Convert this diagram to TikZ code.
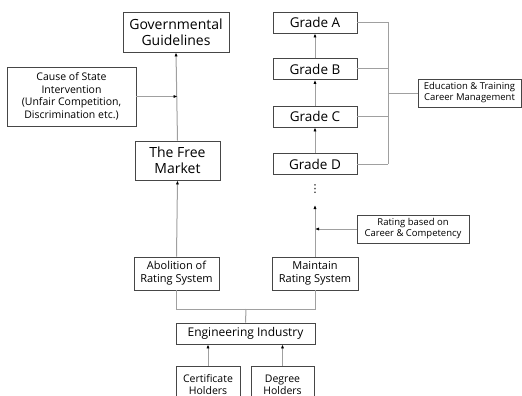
\documentclass[tikz,border=0pt]{standalone}
\usepackage{fontspec}
\setmainfont{Open Sans}
\newfontfamily\symfont{DejaVu Sans}
\usetikzlibrary{arrows.meta,positioning,calc}
\definecolor{boxline}{RGB}{70,70,70}
\definecolor{linkline}{RGB}{160,160,160}
\tikzset{
  box/.style={draw=boxline,line width=0.9pt,align=center,inner sep=0pt},
  conn/.style={draw=linkline,line width=1pt},
  arr/.style={conn,-{Latex[length=4pt,width=3.2pt,color=black]}}
}
\newcommand{\fsz}[2]{\fontsize{#1}{#2}\selectfont}

\begin{document}
\begin{tikzpicture}[x=1pt,y=-1pt]
    \useasboundingbox (0,0) rectangle (522,396);
    \clip (0,0) rectangle (522,396);

    % left column
    \node[box,minimum width=106,minimum height=40,font=\fsz{14}{16}] at (176,32) (gov) {Governmental\\Guidelines};
    \node[box,minimum width=129,minimum height=59,font=\fsz{10.5}{12.5}] at (71.5,96.5) (cause) {Cause of State\\Intervention\\(Unfair Competition,\\Discrimination etc.)};
    \node[box,minimum width=85,minimum height=39,font=\fsz{14}{16}] at (177.5,160.5) (market) {The Free\\Market};
    \node[box,minimum width=85,minimum height=33,font=\fsz{11}{13}] at (176.5,273.5) (abol) {Abolition of\\Rating System};

    % right column
    \foreach \g/\y in {A/22.5,B/69,C/116.5,D/164} {
      \node[box,minimum width=84,minimum height=21,font=\fsz{13.5}{16}] at (315,\y) (grade\g) {Grade \g};
      \draw[conn] (grade\g.east) -- (388,\y);
    }
    \foreach \g/\h in {B/A,C/B,D/C} {
      \draw[arr] (grade\g.north) -- (grade\h.south);
    }
    \node[box,minimum width=103,minimum height=28,font=\fsz{9.5}{11}] at (469.5,93) (edu) {Education \& Training\\Career Management};
    \coordinate (bus) at (388,93);
    \draw[conn] (388,22.5) -- (388,164);
    \draw[conn] (edu.west) -- (bus);
    \node[inner sep=0pt,font=\symfont\fsz{11}{13}] at (315,189) (dots) {⋮};

    \node[box,minimum width=112,minimum height=28,font=\fsz{9.5}{11}] at (413,229) (rating) {Rating based on\\Career \& Competency};
    \node[box,minimum width=86,minimum height=33,font=\fsz{11}{13}] at (315,273.5) (maint) {Maintain\\Rating System};
    \coordinate (top) at (315,205);

    % bottom
    \node[box,minimum width=139,minimum height=21,font=\fsz{12}{14}] at (245.5,333.5) (eng) {Engineering Industry};
    \node[box,minimum width=64,minimum height=36,font=\fsz{10.5}{12},anchor=north] at (208,366) (cert) {Certificate\\Holders};
    \node[box,minimum width=63,minimum height=36,font=\fsz{10.5}{12},anchor=north] at (282.5,366) (deg) {Degree\\Holders};

    % connectors
    \draw[arr] (market.north) -- (gov.south);
    \draw[arr] (cause.east) -- (cause.east -| market.north);
    \draw[arr] (abol.north) -- (market.south);
    \draw[arr] (maint.north) -- (top);
    \draw[arr] (rating.west) -- (rating.west -| maint.north);
    \draw[conn] (abol.south) -- ++(0,19) -| (maint.south);
    \draw[conn] (abol.south |- 0,309) ++(69.5,0) coordinate (split) -- (eng.north);
    \draw[arr] (cert.north) -- (cert.north |- eng.south);
    \draw[arr] (deg.north) -- (deg.north |- eng.south);
\end{tikzpicture}
\end{document}
